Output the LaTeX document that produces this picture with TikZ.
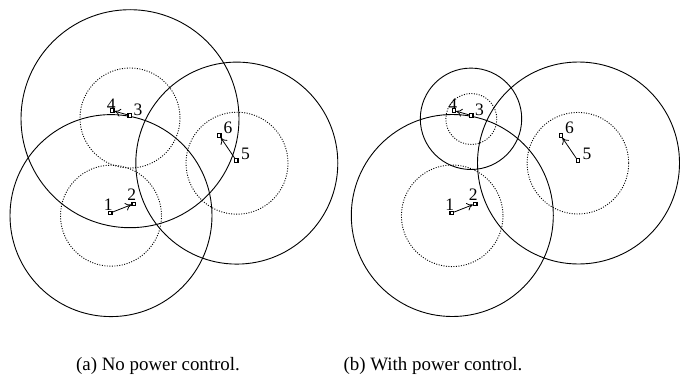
\documentclass[tikz,border=0pt]{standalone}
\usepackage{fontspec}
\setmainfont{Liberation Serif}
\usetikzlibrary{arrows.meta}
\begin{document}
\begin{tikzpicture}[x=1pt,y=-1pt,
  txrange/.style={line width=0.9pt},
  sense/.style={line width=0.9pt, dash pattern=on 1pt off 1.5pt},
  term/.style={draw, line width=1.2pt, fill=white, inner sep=0pt, minimum size=3.4pt},
  num/.style={inner sep=0pt, font=\fontsize{17.5}{17.5}\selectfont},
  link/.style={line width=0.8pt, -{To[length=6pt,width=8pt]}},
  captext/.style={inner sep=0pt, anchor=base, font=\fontsize{18.9}{19}\selectfont}
]
\useasboundingbox (0,0) rectangle (680,380);

% ---------- (a) ----------
\draw[txrange] (130,118.7) circle[radius=109];
\draw[txrange] (111,215.6) circle[radius=101];
\draw[txrange] (236.8,163.1) circle[radius=101];
\draw[sense] (130,118) circle[radius=50];
\draw[sense] (111,215.7) circle[radius=50.5];
\draw[sense] (237,163.2) circle[radius=51];

\node[num] (la1) at (108.3,205) {1};
\node[num] (la2) at (131.7,194.5) {2};
\node[num] (la3) at (138,110) {3};
\node[num] (la4) at (111.2,105) {4};
\node[num] (la5) at (245.5,153.5) {5};
\node[num] (la6) at (228,128) {6};

\node[term] (a1) at (110.2,213) {};
\node[term] (a2) at (133.7,203.8) {};
\node[term] (a3) at (129.7,115.5) {};
\node[term] (a4) at (112.3,110.5) {};
\node[term] (a5) at (236.3,160.5) {};
\node[term] (a6) at (219.3,135.5) {};

\draw[link] (a1) -- (a2);
\draw[link] (a3) -- (a4);
\draw[link] (a5) -- (a6);

% ---------- (b) ----------
\draw[txrange] (471,118.8) circle[radius=50.7];
\draw[txrange] (452.3,215.5) circle[radius=101];
\draw[txrange] (578.5,163) circle[radius=101];
\draw[sense] (471.3,119) circle[radius=25.5];
\draw[sense] (452.2,215.8) circle[radius=50.8];
\draw[sense] (577.9,163.2) circle[radius=50.8];

\node[num] (lb1) at (449.8,205) {1};
\node[num] (lb2) at (473.2,194.5) {2};
\node[num] (lb3) at (479.5,110) {3};
\node[num] (lb4) at (452.7,105) {4};
\node[num] (lb5) at (587,153.5) {5};
\node[num] (lb6) at (569.5,128) {6};

\node[term] (b1) at (451.7,213) {};
\node[term] (b2) at (475.2,203.8) {};
\node[term] (b3) at (471.2,115.5) {};
\node[term] (b4) at (453.8,110.5) {};
\node[term] (b5) at (577.8,160.5) {};
\node[term] (b6) at (560.8,135.5) {};

\draw[link] (b1) -- (b2);
\draw[link] (b3) -- (b4);
\draw[link] (b5) -- (b6);

% ---------- captions ----------
\node[captext] (capa) at (158,370) {(a) No power control.};
\node[captext] (capb) at (433,370) {(b) With power control.};
\end{tikzpicture}
\end{document}
